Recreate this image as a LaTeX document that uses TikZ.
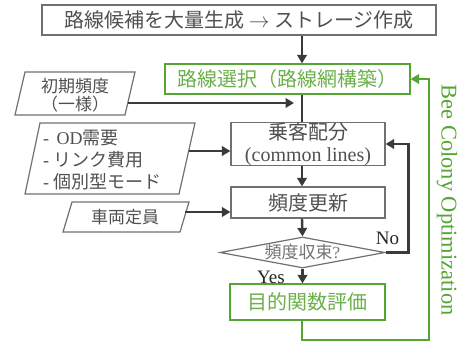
\documentclass[tikz,border=0pt]{standalone}
\usepackage{fontspec}
\setmainfont{Liberation Serif}
\newfontfamily\jp{Noto Sans CJK JP}
\newfontfamily\jph{Noto Sans CJK JP}[RawFeature=+halt]
\usetikzlibrary{arrows.meta,shapes.geometric,calc}
\definecolor{bordergray}{HTML}{707070}
\definecolor{textgray}{HTML}{505050}
\definecolor{arrowgray}{HTML}{3A3A3A}
\definecolor{greenline}{HTML}{55A532}
\definecolor{greentext}{HTML}{6BB04A}
\begin{document}
\begin{tikzpicture}[x=1pt,y=-1pt,
  box/.style={draw=bordergray,line width=1.2pt,fill=white,inner sep=0pt,text=textgray,font=\jp\fontsize{20pt}{24pt}\selectfont},
  gbox/.style={box,draw=greenline,text=greentext},
  para/.style={draw=bordergray,line width=1.2pt},
  lbl/.style={text=textgray,inner sep=0pt,font=\jp\fontsize{17pt}{21pt}\selectfont},
  arr/.style={draw=arrowgray,line width=2.4pt,-{Triangle[length=8.5pt,width=9.5pt]}},
  plainline/.style={draw=arrowgray,line width=2.4pt},
  garr/.style={draw=greenline,line width=2.6pt,-{Triangle[length=8.5pt,width=9.5pt]}},
  yn/.style={text=black!85,inner sep=0pt,anchor=base,font=\rmfamily\fontsize{19pt}{22pt}\selectfont}
]
\useasboundingbox (0,0) rectangle (460,347);

% boxes
\node[box,minimum width=394pt,minimum height=30pt] (top) at (239,20) {路線候補を大量生成 $\rightarrow$ ストレージ作成};
\node[gbox,minimum width=245pt,minimum height=30pt] (sel) at (287.5,79) {路線選択（路線網構築）};
\node[box,minimum width=154pt,minimum height=42pt,align=center,font=\jp\fontsize{20pt}{22pt}\selectfont] (ca) at (308,144) {乗客配分\\{\rmfamily (common lines)}};
\node[box,minimum width=154pt,minimum height=31pt] (freq) at (308,202.5) {頻度更新};
\node[draw=bordergray,line width=1.2pt,diamond,aspect=5.3,minimum width=165pt,minimum height=31pt,inner sep=0pt,fill=white,text=textgray!80,font=\jp\fontsize{17pt}{20pt}\selectfont] (conv) at (302.5,252.5) {頻度収束{\rmfamily ?}};
\node[gbox,minimum width=155pt,minimum height=36pt] (goal) at (307.5,302) {目的関数評価};

% parallelograms
\draw[para] (25,72) -- (135,72) -- (125,115) -- (15,115) -- cycle;
\node[lbl] (init) at (75,86) {初期頻度};
\node[lbl,font=\jph\fontsize{17pt}{21pt}\selectfont] (initu) at (75,104) {（一様）};
\coordinate (initout) at (128,103);

\draw[para] (40,123) -- (195,123) -- (179,194) -- (25,194) -- cycle;
\node[lbl,anchor=west,align=left,font=\jp\fontsize{18pt}{22pt}\selectfont] (inp) at (43,160) {{\rmfamily -\, OD}需要\\{\rmfamily -} リンク費用\\{\rmfamily -} 個別型モード};
\coordinate (inpout) at (189,151);

\draw[para] (72,202) -- (189,202) -- (180,232) -- (63,232) -- cycle;
\node[lbl] (cap) at (125,217) {車両定員};
\coordinate (capout) at (185,212);

% connectors
\coordinate (sp) at (302,0);
\draw[arr] (top.south -| sp) -- (sel.north -| sp);
\draw[plainline] (sel.south -| sp) -- (ca.north -| sp);
\draw[arr,shorten >=8pt] (initout) -- (initout -| sp);
\draw[arr] (inpout) -- (inpout -| ca.west);
\draw[arr] (ca.south -| sp) -- (freq.north -| sp);
\draw[arr] (capout) -- (capout -| freq.west);
\draw[arr] (freq.south -| sp) -- (conv.north);
\draw[arr] (conv.south) -- (goal.north -| conv.south);
\draw[arr] (conv.east) -- ++(23,0) |- (ca.east);
\node[yn] (no) at (387.5,244) {No};
\node[yn] (yes) at (271,283) {Yes};

% feedback
\coordinate (fb) at (429,340);
\draw[garr] (goal.south -| sp) |- (fb) |- (sel.east);
\node[rotate=-90,text=greenline,inner sep=0pt,font=\rmfamily\fontsize{22.5pt}{26pt}\selectfont] (bco) at (447,200) {Bee Colony Optimization};
\end{tikzpicture}
\end{document}
